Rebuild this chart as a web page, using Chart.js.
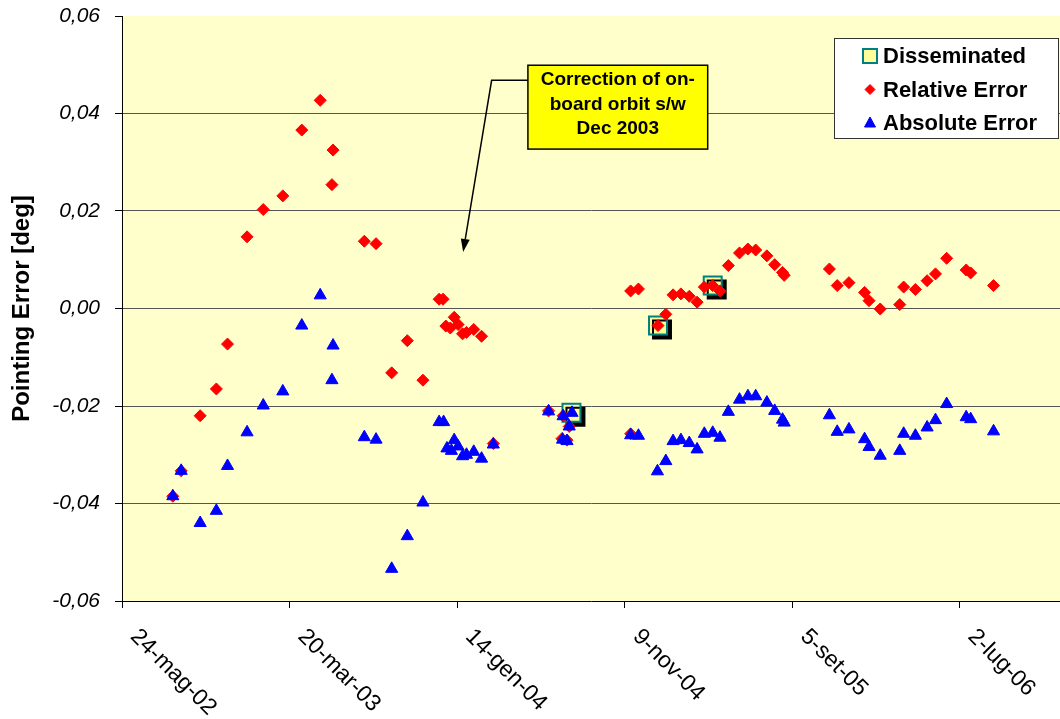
<!DOCTYPE html>
<html>
<head>
<meta charset="utf-8">
<script src="https://cdn.jsdelivr.net/npm/chart.js@4.4.1/dist/chart.umd.min.js"></script>
<style>
html, body { margin: 0; padding: 0; background: #fff; }
</style>
</head>
<body>
<canvas id="pointing_chart" width="1060" height="719"></canvas>
<script>
// x values are days counted from 24-mag-02 (first axis tick)
var tickStep = 300;
var tickLabels = ['24-mag-02', '20-mar-03', '14-gen-04', '9-nov-04', '5-set-05', '2-lug-06'];

var relDays = [91, 106, 140, 169, 189, 224, 253, 288, 322, 355, 378, 376,
    434, 455, 483, 511, 539, 568, 575, 580, 588, 595, 602, 610, 617, 630, 644, 665,
    764, 790, 801, 788, 797, 911, 925, 911,
    960, 974, 987, 1001, 1016, 1030, 1043, 1058, 1071, 1086, 1106, 1121, 1135, 1155, 1169, 1183, 1186,
    1267, 1281, 1302, 1330, 1338, 1358, 1393, 1400, 1421, 1442, 1457, 1477, 1512, 1520, 1561];
var relError = [-0.0385, -0.0333, -0.0220, -0.0165, -0.0073, 0.0147, 0.0203, 0.0231, 0.0366, 0.0427, 0.0325, 0.0254,
    0.0138, 0.0133, -0.0132, -0.0066, -0.0147, 0.0019, 0.0019, -0.0036, -0.0040, -0.0018, -0.0033, -0.0052, -0.0049, -0.0043, -0.0057, -0.0277,
    -0.0210, -0.0220, -0.0242, -0.0267, -0.0270, 0.0036, 0.0040, -0.0257,
    -0.0035, -0.0012, 0.0028, 0.0030, 0.0025, 0.0013, 0.0044, 0.0047, 0.0036, 0.0088, 0.0114, 0.0122, 0.0120, 0.0108, 0.0090, 0.0074, 0.0068,
    0.0081, 0.0047, 0.0053, 0.0033, 0.0016, -0.0001, 0.0008, 0.0044, 0.0039, 0.0057, 0.0071, 0.0103, 0.0079, 0.0073, 0.0047];

var absDays = [91, 106, 140, 169, 189, 224, 253, 288, 322, 355, 378, 376,
    434, 455, 483, 511, 539, 568, 576, 582, 590, 595, 602, 610, 617, 630, 644, 665,
    764, 790, 806, 801, 789, 797, 911, 925,
    959, 974, 987, 1001, 1016, 1030, 1043, 1058, 1071, 1086, 1106, 1121, 1135, 1155, 1169, 1183, 1186,
    1267, 1281, 1302, 1330, 1338, 1358, 1393, 1400, 1421, 1442, 1457, 1477, 1512, 1520, 1561];
var absError = [-0.0385, -0.0333, -0.0440, -0.0415, -0.0323, -0.0254, -0.0199, -0.0170, -0.0035, 0.0027, -0.0076, -0.0147,
    -0.0264, -0.0269, -0.0534, -0.0467, -0.0398, -0.0233, -0.0233, -0.0287, -0.0292, -0.0270, -0.0283, -0.0303, -0.0300, -0.0294, -0.0308, -0.0279,
    -0.0211, -0.0221, -0.0214, -0.0242, -0.0269, -0.0272, -0.0260, -0.0261,
    -0.0334, -0.0313, -0.0272, -0.0270, -0.0276, -0.0289, -0.0257, -0.0255, -0.0265, -0.0212, -0.0187, -0.0180, -0.0180, -0.0193, -0.0210, -0.0228, -0.0234,
    -0.0219, -0.0253, -0.0248, -0.0268, -0.0284, -0.0302, -0.0292, -0.0257, -0.0261, -0.0244, -0.0229, -0.0196, -0.0223, -0.0227, -0.0252];

var dissDays = [805, 960, 1058];
var dissError = [-0.0214, -0.0035, 0.0047];

var noteLines = ['Correction of on-', 'board orbit s/w', 'Dec 2003'];

function toPoints(days, values) {
    return days.map(function(d, i){ return {x: d, y: values[i]}; });
}

Chart.defaults.font.family = '"Liberation Sans", Arial, sans-serif';
Chart.defaults.color = '#000';

var plotBackground = {
    id: 'plotBackground',
    beforeDraw: function(chart) {
        var a = chart.chartArea;
        chart.ctx.save();
        chart.ctx.fillStyle = '#FFFFCC';
        chart.ctx.fillRect(a.left, a.top, a.right - a.left, a.bottom - a.top);
        chart.ctx.restore();
    }
};

// black drop shadow under the "Disseminated" squares
var dissShadow = {
    id: 'dissShadow',
    beforeDatasetDraw: function(chart, args) {
        if (args.index !== 0) return;
        var c = chart.ctx;
        c.save();
        c.shadowColor = '#000';
        c.shadowOffsetX = 4;
        c.shadowOffsetY = 4;
        c.shadowBlur = 0;
    },
    afterDatasetDraw: function(chart, args) {
        if (args.index === 0) chart.ctx.restore();
    }
};

var dateLabels = {
    id: 'dateLabels',
    afterDraw: function(chart) {
        var xs = chart.scales.x, c = chart.ctx;
        c.save();
        c.font = '23px "Liberation Sans", Arial, sans-serif';
        c.fillStyle = '#000';
        c.textAlign = 'left';
        c.textBaseline = 'middle';
        xs.ticks.forEach(function(t){
            var label = tickLabels[Math.round(t.value / tickStep)];
            if (!label) return;
            var px = xs.getPixelForValue(t.value);
            c.save();
            c.translate(px + 12, xs.top + 32);
            c.rotate(Math.PI / 4);
            c.fillText(label, 0, 0);
            c.restore();
        });
        c.restore();
    }
};

var callout = {
    id: 'callout',
    afterDatasetsDraw: function(chart) {
        var x = chart.scales.x, y = chart.scales.y, c = chart.ctx;
        var tipX = x.getPixelForValue(611), tipY = y.getPixelForValue(0.0116);
        var elbowX = x.getPixelForValue(662), lineY = y.getPixelForValue(0.0468);
        var bx0 = x.getPixelForValue(727), bx1 = x.getPixelForValue(1049);
        var by0 = y.getPixelForValue(0.0499), by1 = y.getPixelForValue(0.0327);
        var ang = Math.atan2(tipY - lineY, tipX - elbowX);
        var len = 13, half = 4.5;
        var baseX = tipX - Math.cos(ang) * len, baseY = tipY - Math.sin(ang) * len;
        c.save();
        c.strokeStyle = '#000';
        c.lineWidth = 1.5;
        c.beginPath();
        c.moveTo(bx0, lineY);
        c.lineTo(elbowX, lineY);
        c.lineTo(baseX, baseY);
        c.stroke();
        c.fillStyle = '#000';
        c.beginPath();
        c.moveTo(tipX, tipY);
        c.lineTo(baseX + Math.sin(ang) * half, baseY - Math.cos(ang) * half);
        c.lineTo(baseX - Math.sin(ang) * half, baseY + Math.cos(ang) * half);
        c.closePath();
        c.fill();
        c.fillStyle = '#FFFF00';
        c.fillRect(bx0, by0, bx1 - bx0, by1 - by0);
        c.strokeRect(bx0, by0, bx1 - bx0, by1 - by0);
        c.fillStyle = '#000';
        c.font = 'bold 19px "Liberation Sans", Arial, sans-serif';
        c.textAlign = 'center';
        c.textBaseline = 'middle';
        noteLines.forEach(function(t, i){
            c.fillText(t, (bx0 + bx1) / 2, by0 + 15 + i * 24.5);
        });
        c.restore();
    }
};

var boxLegend = {
    id: 'boxLegend',
    afterDraw: function(chart) {
        var a = chart.chartArea, c = chart.ctx;
        var w = 224, h = 100, left = a.right - 226, top = a.top + 22;
        c.save();
        c.fillStyle = '#fff';
        c.fillRect(left, top, w, h);
        c.strokeStyle = '#333';
        c.lineWidth = 1;
        c.strokeRect(left + 0.5, top + 0.5, w, h);
        chart.data.datasets.forEach(function(ds, i){
            var cy = top + 18 + i * 33.5, mx = left + 36;
            c.fillStyle = ds.backgroundColor;
            c.strokeStyle = ds.borderColor;
            c.beginPath();
            if (ds.pointStyle === 'rect') {
                c.lineWidth = 2;
                c.rect(mx - 7, cy - 7, 14, 14);
            } else if (ds.pointStyle === 'rectRot') {
                c.lineWidth = 1;
                c.moveTo(mx, cy - 5); c.lineTo(mx + 5, cy); c.lineTo(mx, cy + 5); c.lineTo(mx - 5, cy); c.closePath();
            } else {
                c.lineWidth = 1;
                c.moveTo(mx, cy - 6); c.lineTo(mx + 5.5, cy + 4); c.lineTo(mx - 5.5, cy + 4); c.closePath();
            }
            c.fill();
            c.stroke();
            c.fillStyle = '#000';
            c.font = 'bold 22px "Liberation Sans", Arial, sans-serif';
            c.textAlign = 'left';
            c.textBaseline = 'middle';
            c.fillText(ds.label, left + 49, cy + 1);
        });
        c.restore();
    }
};

var ctx = document.getElementById('pointing_chart').getContext('2d');
var pointing_chart = new Chart(ctx, {
    type: 'scatter',
    data: {
        datasets: [{
            label: 'Disseminated',
            data: toPoints(dissDays, dissError),
            pointStyle: 'rect',
            pointRadius: 12.7,
            pointHoverRadius: 12.7,
            backgroundColor: '#FFFF99',
            borderColor: '#008080',
            borderWidth: 2,
            order: 3,
        },{
            label: 'Relative Error',
            data: toPoints(relDays, relError),
            pointStyle: 'rectRot',
            pointRadius: 6,
            pointHoverRadius: 6,
            backgroundColor: '#FF0000',
            borderColor: '#FF0000',
            borderWidth: 1,
            order: 2,
        },{
            label: 'Absolute Error',
            data: toPoints(absDays, absError),
            pointStyle: 'triangle',
            pointRadius: 7,
            pointHoverRadius: 7,
            backgroundColor: '#0000FF',
            borderColor: '#0000FF',
            borderWidth: 1,
            order: 1,
        }]
    },
    options: {
        responsive: false,
        animation: false,
        layout: { autoPadding: false, padding: { top: 16, right: 0, bottom: 0, left: 0 } },
        plugins: {
            legend: { display: false },
            tooltip: { enabled: false },
        },
        scales: {
            x: {
                type: 'linear',
                position: 'bottom',
                min: 0,
                max: 1680,
                afterFit: function(s){ s.height = 118; s.paddingLeft = 0; s.paddingRight = 0; },
                grid: { drawOnChartArea: false, drawTicks: true, tickLength: 7, tickColor: '#000' },
                border: { display: true, color: '#000', width: 1 },
                ticks: { stepSize: tickStep, includeBounds: false, display: false },
            },
            y: {
                min: -0.06,
                max: 0.06,
                afterFit: function(s){ s.width = 122; s.paddingTop = 0; s.paddingBottom = 0; },
                grid: {
                    color: function(c){ return (c.tick && Math.abs(c.tick.value) > 0.059) ? 'rgba(0,0,0,0)' : '#555'; },
                    tickColor: '#000',
                    tickLength: 7,
                    lineWidth: 1,
                },
                border: { display: true, color: '#000', width: 1 },
                ticks: {
                    stepSize: 0.02,
                    padding: 15,
                    color: '#000',
                    font: { size: 21, style: 'italic' },
                    callback: function(v){ return (Math.abs(v) < 1e-9 ? 0 : v).toFixed(2).replace('.', ','); },
                },
                title: {
                    display: true,
                    text: 'Pointing Error [deg]',
                    color: '#000',
                    font: { size: 24, weight: 'bold' },
                    padding: { top: 8, bottom: 0 },
                },
            },
        },
    },
    plugins: [plotBackground, dissShadow, dateLabels, callout, boxLegend],
});
</script>
</body>
</html>
